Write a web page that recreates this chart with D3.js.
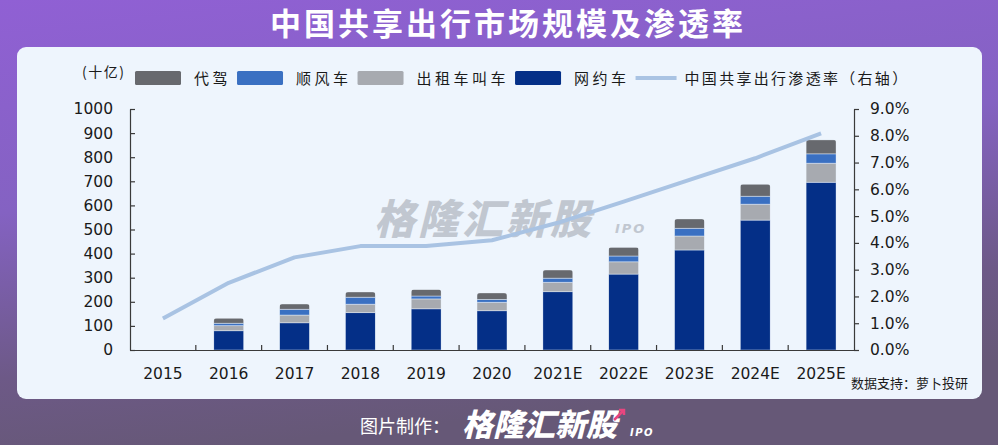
<!DOCTYPE html>
<html><head><meta charset="utf-8">
<script src="https://cdn.jsdelivr.net/npm/d3@7/dist/d3.min.js"></script>
<style>
html,body{margin:0;padding:0;background:#7a5fb0;}
svg{display:block;}
</style></head>
<body>
<svg id="c" width="998" height="445"></svg>
<script>
// ---- data ----
const categories = ["2015","2016","2017","2018","2019","2020","2021E","2022E","2023E","2024E","2025E"];
const seriesNames = ["代驾","顺风车","出租车叫车","网约车"];
const wangyue  = [0, 80, 113, 155, 171, 163, 242, 315, 415, 539, 696];
const chuzu    = [0, 21, 32, 35, 41, 35, 39, 51, 58, 66, 79];
const shunfeng = [0, 10, 24, 29, 12, 12, 17, 24, 32, 33, 39];
const daijia   = [0, 21, 22, 22, 27, 27, 34, 36, 39, 50, 58];
const penetration = [0.0118, 0.0251, 0.0346, 0.0388, 0.0388, 0.0410, 0.0475, 0.0554, 0.0635, 0.0716, 0.0809];
const leftTicks = [0,100,200,300,400,500,600,700,800,900,1000];
const rightTicks = [0,0.01,0.02,0.03,0.04,0.05,0.06,0.07,0.08,0.09];
const lineName = "中国共享出行渗透率（右轴）";
const unitLabel = "(十亿)";
const title = "中国共享出行市场规模及渗透率";
const source = "数据支持：萝卜投研";

// ---- styles ----
const colors = {"代驾":"#67696e","顺风车":"#3a70c2","出租车叫车":"#a7aab0","网约车":"#042f87"};
const lineColor = "#a9c3e3";
const cjk = "'Noto Sans CJK SC', sans-serif";
const num = "'DejaVu Sans', Verdana, sans-serif";

const svg = d3.select("#c");
const defs = svg.append("defs");
const bg = defs.append("linearGradient").attr("id","bg").attr("x1",0).attr("y1",0).attr("x2",0.25).attr("y2",1);
[[0,"#9060d4"],[0.45,"#8462c2"],[0.8,"#6d5987"],[1,"#665877"]].forEach(s=>bg.append("stop").attr("offset",s[0]).attr("stop-color",s[1]));
svg.append("rect").attr("width",998).attr("height",445).attr("fill","url(#bg)");

// title
svg.append("text").attr("x",508).attr("y",35).attr("text-anchor","middle")
  .attr("font-family",cjk).attr("font-weight",700).attr("font-size",31)
  .attr("letter-spacing",3).attr("fill","#fff").text(title);

// panel
svg.append("rect").attr("x",17).attr("y",47).attr("width",965).attr("height",352).attr("rx",9).attr("fill","#eef5fd");

// scales
const x = d3.scaleBand().domain(categories).range([130,854]).paddingInner(0.544).paddingOuter(0.272);
const yL = d3.scaleLinear().domain([0,1000]).range([350,109]);
const yR = d3.scaleLinear().domain([0,0.09]).range([350,109]);

// watermark
const wm = svg.append("g").attr("fill","#b6bcc6").attr("opacity",0.8);
wm.append("text").attr("x",374).attr("y",234).attr("font-family",cjk).attr("font-weight",900)
  .attr("font-size",41).attr("font-style","italic").attr("letter-spacing",3).text("格隆汇新股");
wm.append("text").attr("x",615).attr("y",233).attr("font-family",num).attr("font-weight",700)
  .attr("font-size",13).attr("font-style","italic").attr("letter-spacing",2).text("IPO");

// stacked bars
const rows = categories.map((c,i)=>({cat:c,"网约车":wangyue[i],"出租车叫车":chuzu[i],"顺风车":shunfeng[i],"代驾":daijia[i]}));
const stackOrder = ["网约车","出租车叫车","顺风车","代驾"];
const stacked = d3.stack().keys(stackOrder)(rows);
rows.forEach((r,i)=>{
  const tot = stackOrder.reduce((a,k)=>a+r[k],0);
  if(tot<=0) return;
  defs.append("clipPath").attr("id","cb"+i).append("rect")
    .attr("x",x(r.cat)).attr("y",yL(tot)).attr("width",x.bandwidth()).attr("height",yL(0)-yL(tot)+3).attr("rx",3);
});
const gBars = svg.append("g");
stacked.forEach(layer=>{
  gBars.selectAll(null).data(layer.map((d,i)=>({d,i}))).enter().append("rect")
    .filter(o=>o.d[1]-o.d[0]>0)
    .attr("clip-path",o=>"url(#cb"+o.i+")")
    .attr("x",o=>x(categories[o.i])).attr("width",x.bandwidth())
    .attr("y",o=>yL(o.d[1])).attr("height",o=>yL(o.d[0])-yL(o.d[1]))
    .attr("fill",colors[layer.key])
    .attr("stroke","#eef5fd").attr("stroke-opacity",0.55).attr("stroke-width",0.8);
});

// axes
const axStyle = g=>{
  g.selectAll("path.domain").attr("stroke","#3a3a3a").attr("stroke-width",1.2);
  g.selectAll(".tick line").attr("stroke","#3a3a3a").attr("stroke-width",1.2);
  g.selectAll("text").attr("font-family",num).attr("font-size",15.5).attr("fill","#1a1a1a");
};
svg.append("g").attr("transform","translate(130,0)")
  .call(d3.axisLeft(yL).tickValues(leftTicks).tickSize(-5).tickSizeOuter(0).tickPadding(17).tickFormat(d3.format("d")))
  .call(axStyle);
svg.append("g").attr("transform","translate(854,0)")
  .call(d3.axisRight(yR).tickValues(rightTicks).tickSize(5).tickSizeOuter(0).tickPadding(11).tickFormat(d3.format(".1%")))
  .call(axStyle);
const xa = svg.append("g").attr("transform","translate(0,350)")
  .call(d3.axisBottom(x).tickSize(0).tickSizeOuter(0).tickPadding(21))
  .call(axStyle);
xa.selectAll("text").attr("dy","0.5em");
// category boundary ticks
const step = x.step(), gap = step - x.bandwidth();
svg.append("g").selectAll("line").data(categories.slice(1)).enter().append("line")
  .attr("x1",d=>x(d)-gap/2).attr("x2",d=>x(d)-gap/2).attr("y1",350).attr("y2",345)
  .attr("stroke","#3a3a3a").attr("stroke-width",1.2);

// penetration line
const line = d3.line().x((d,i)=>x(categories[i])+x.bandwidth()/2).y(d=>yR(d));
svg.append("path").datum(penetration).attr("d",line).attr("fill","none")
  .attr("stroke",lineColor).attr("stroke-width",4).attr("stroke-linejoin","round");

// legend
const lg = svg.append("g").attr("font-family",cjk).attr("font-size",15).attr("fill","#1a1a1a");
lg.append("text").attr("x",82).attr("y",77).attr("font-size",14).attr("letter-spacing",1.5).text(unitLabel);
let lx = 135;
seriesNames.forEach(n=>{
  lg.append("rect").attr("x",lx).attr("y",71).attr("width",46).attr("height",14).attr("rx",1.5).attr("fill",colors[n]);
  const t = lg.append("text").attr("x",lx+59).attr("y",84).attr("letter-spacing",3.5).text(n);
  lx = lx + 59 + t.node().getComputedTextLength() + 6;
});
lg.append("line").attr("x1",lx).attr("x2",lx+41).attr("y1",78).attr("y2",78).attr("stroke",lineColor).attr("stroke-width",4);
lg.append("text").attr("x",lx+49).attr("y",84).attr("letter-spacing",2.3).text(lineName);

// source
svg.append("text").attr("x",968).attr("y",388).attr("text-anchor","end")
  .attr("font-family",cjk).attr("font-size",13).attr("fill","#1a1a1a").text(source);

// footer
svg.append("text").attr("x",360).attr("y",433).attr("font-family",cjk).attr("font-size",18)
  .attr("fill","#fff").text("图片制作：");
svg.append("text").attr("x",462).attr("y",436).attr("font-family",cjk).attr("font-weight",900)
  .attr("font-size",31).attr("font-style","italic").attr("fill","#fff").text("格隆汇新股");
svg.append("text").attr("x",630).attr("y",436).attr("font-family",num).attr("font-weight",700)
  .attr("font-size",10).attr("font-style","italic").attr("letter-spacing",1.5).attr("fill","#fff").text("IPO");
svg.append("path").attr("d","M614,420 L624,410 M619,410 L624,410 L624,415").attr("stroke","#e8467f")
  .attr("stroke-width",2.5).attr("fill","none");
</script>
</body></html>
